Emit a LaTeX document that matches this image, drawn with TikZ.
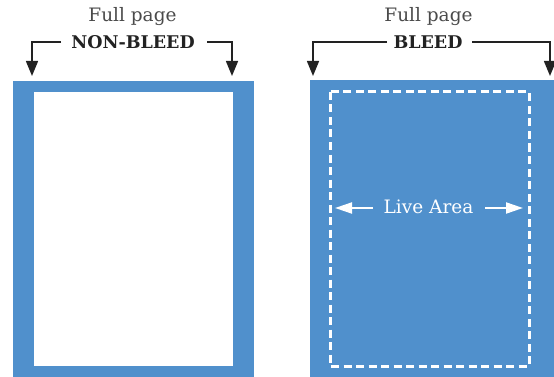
\documentclass[tikz,border=0pt]{standalone}
\usepackage{fontspec}
\setmainfont{DejaVu Serif}
\usetikzlibrary{arrows.meta}
\definecolor{pageblue}{HTML}{5090CC}
\definecolor{ink}{HTML}{222222}
\definecolor{soft}{HTML}{4A4A4A}
\tikzset{
  pagebox/.style={fill=pageblue, draw=none},
  livebox/.style={draw=white, line width=3pt, dash pattern=on 8pt off 4.5pt},
  toplabel/.style={anchor=base, inner sep=0pt, text=soft, font=\fontsize{18.5}{20}\selectfont},
  kindlabel/.style={anchor=base, inner sep=0pt, text=ink, font=\fontsize{17.5}{20}\selectfont\bfseries},
  blackarrow/.style={draw=ink, line width=1.5pt, -{Triangle[length=15pt,width=12pt]}},
  whitearrow/.style={draw=white, line width=2pt, -{Triangle[length=17pt,width=11pt]}},
}
\begin{document}
\begin{tikzpicture}[x=1pt,y=-1pt]
\useasboundingbox (0,0) rectangle (554,377);
% left page
\fill[pagebox] (13,81) rectangle (254,377);
\fill[white] (34,92) rectangle (233,366);
% right page
\fill[pagebox] (310,80) rectangle (554,377);
\draw[livebox] (330,92) rectangle (529,366);
% labels
\node[toplabel] (fpL) at (132.5,21.7) {Full page};
\node[kindlabel] (nb) at (133,48.3) {NON-BLEED};
\node[toplabel] (fpR) at (428.5,21.7) {Full page};
\node[kindlabel] (bl) at (428,48.3) {BLEED};
\node[anchor=base, inner sep=0pt, text=white, font=\fontsize{18.5}{20}\selectfont] (live) at (428.5,213.5) {Live Area};
% connector coordinates
\coordinate (nbL1) at (61,42);
\coordinate (nbL2) at (32,42);
\coordinate (nbL3) at (32,76);
\coordinate (nbR1) at (207,42);
\coordinate (nbR2) at (232,42);
\coordinate (nbR3) at (232,76);
\coordinate (blL1) at (387,42);
\coordinate (blL2) at (313,42);
\coordinate (blL3) at (313,76);
\coordinate (blR1) at (472,42);
\coordinate (blR2) at (550,42);
\coordinate (blR3) at (550,76);
\coordinate (laL1) at (373,208);
\coordinate (laL2) at (335,208);
\coordinate (laR1) at (485,208);
\coordinate (laR2) at (523,208);
\draw[blackarrow] (nbL1) -- (nbL2) -- (nbL3);
\draw[blackarrow] (nbR1) -- (nbR2) -- (nbR3);
\draw[blackarrow] (blL1) -- (blL2) -- (blL3);
\draw[blackarrow] (blR1) -- (blR2) -- (blR3);
\draw[whitearrow] (laL1) -- (laL2);
\draw[whitearrow] (laR1) -- (laR2);
\end{tikzpicture}
\end{document}
